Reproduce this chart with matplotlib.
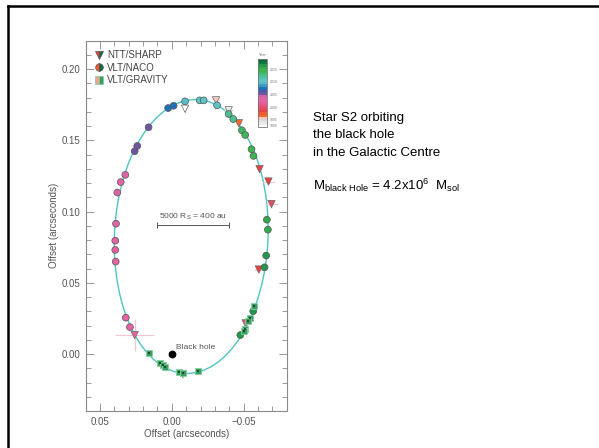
import numpy as np
import matplotlib
matplotlib.use("Agg")
import matplotlib.pyplot as plt
from matplotlib.lines import Line2D
from matplotlib.patches import Ellipse
from matplotlib.colors import ListedColormap, BoundaryNorm
from matplotlib.ticker import MultipleLocator

plt.rcParams['font.family'] = ['Liberation Sans', 'DejaVu Sans']
plt.rcParams['mathtext.fontset'] = 'custom'
plt.rcParams['mathtext.rm'] = 'Liberation Sans'
plt.rcParams['mathtext.it'] = 'Liberation Sans:italic'

# ---------------- data ----------------
# year colour scale
year_edges = list(range(1992, 2020))
year_colors = ['#ffffff', '#ebebeb', '#e0e0e0', '#f4c9c4', '#f36b2b', '#f05a30',
               '#e8413f', '#e84a5f', '#e8507e', '#e85a92', '#e463a4', '#e065a8',
               '#d060a8', '#6c55a3', '#3f5fae', '#1f70b8', '#3a9ec4', '#56bec8',
               '#5cc4c4', '#52c2a8', '#4cbf90', '#40b860', '#3cb44e', '#33aa4a',
               '#22984a', '#0f7a40', '#0b6b3a']
cbar_ticks = [1992.8, 1995, 2000, 2005, 2010, 2015]
cbar_ticklabels = ['1990', '1995', '2000', '2005', '2010', '2015']

# VLT/NACO (circles)
naco_x = [0.0292, 0.0321, 0.0391, 0.0394, 0.0394, 0.0389, 0.0380, 0.0356, 0.0324,
          0.0259, 0.0241, 0.0162, 0.0026, -0.0012, -0.0092, -0.0194, -0.0222,
          -0.0315, -0.0396, -0.0428, -0.0488, -0.0511, -0.0555, -0.0569, -0.0662,
          -0.0669, -0.0657, -0.0646, -0.0567, -0.0477]
naco_y = [0.0189, 0.0255, 0.0649, 0.0731, 0.0796, 0.0915, 0.1134, 0.1207, 0.1258,
          0.1424, 0.1461, 0.1592, 0.1727, 0.1743, 0.1774, 0.1781, 0.1781,
          0.1746, 0.1685, 0.1650, 0.1571, 0.1538, 0.1438, 0.1391, 0.0943,
          0.0873, 0.0691, 0.0609, 0.0301, 0.0133]
naco_year = [2002.5, 2002.6, 2002.8, 2002.9, 2003.0, 2003.2, 2003.4, 2003.6, 2003.8,
             2005.3, 2005.5, 2005.8, 2007.3, 2007.6, 2009.5, 2010.2, 2010.4,
             2010.6, 2012.3, 2012.5, 2013.3, 2013.5, 2014.3, 2014.5, 2015.3,
             2015.5, 2016.3, 2016.5, 2016.6, 2016.8]

# NTT/SHARP (triangles)
ntt_x = [-0.0092, -0.0396, -0.0308, -0.0467, -0.0611, -0.0673, -0.0694, -0.0606,
         -0.0514, -0.0075, 0.0259]
ntt_y = [0.1722, 0.1711, 0.1781, 0.1620, 0.1298, 0.1211, 0.1053, 0.0593,
         0.0215, -0.0140, 0.0133]
ntt_year = [1992.5, 1993.2, 1995.5, 1996.5, 1998.3, 1998.6, 1999.3, 1998.8,
            2000.5, 2002.2, 2002.5]
ntt_xerr = [0.0008, 0.0030, 0.0020, 0.0020, 0.0020, 0.0045, 0.0045, 0.0035,
            0.0020, 0.0020, 0.0135]
ntt_yerr = [0.0030, 0.0015, 0.0020, 0.0015, 0.0015, 0.0020, 0.0030, 0.0015,
            0.0020, 0.0025, 0.0110]

# VLT/GRAVITY (squares)
grav_x = [0.0158, 0.0083, 0.0065, 0.0046, -0.0051, -0.0081, -0.0185,
          -0.0574, -0.0542, -0.0532, -0.0509, -0.0500]
grav_y = [0.0005, -0.0065, -0.0077, -0.0091, -0.0126, -0.0130, -0.0121,
          0.0336, 0.0255, 0.0231, 0.0178, 0.0161]

# orbit (projected ellipse)
orbit_center = (-0.0135, 0.0825)
orbit_semi_x = 0.0535
orbit_semi_y = 0.0962
orbit_angle = 2.5

# ---------------- figure ----------------
fig = plt.figure(figsize=(5.99, 4.48), dpi=100)
ax = fig.add_axes([0.1431, 0.0826, 0.3355, 0.8266])

cmap = ListedColormap(year_colors)
norm = BoundaryNorm(year_edges, cmap.N)

gray = '#8a8a8a'
tcol = '#555555'

ax.add_patch(Ellipse(orbit_center, 2 * orbit_semi_x, 2 * orbit_semi_y,
                     angle=orbit_angle, fill=False, ec='#4ec5c1', lw=1.0, zorder=1))

ax.errorbar(ntt_x, ntt_y, xerr=ntt_xerr, yerr=ntt_yerr, fmt='none',
            ecolor='#f5c6cf', elinewidth=0.8, capsize=0, zorder=2)

ax.scatter(ntt_x, ntt_y, c=ntt_year, cmap=cmap, norm=norm, marker='v', s=28,
           edgecolors='#666666', linewidths=0.5, zorder=3)
ax.scatter(naco_x, naco_y, c=naco_year, cmap=cmap, norm=norm, marker='o', s=24,
           edgecolors='#555555', linewidths=0.5, zorder=4)
ax.scatter(grav_x, grav_y, marker='s', s=20, c='#3d9a62', edgecolors='#7fd39a',
           linewidths=0.6, zorder=5)
ax.scatter(grav_x, grav_y, marker='s', s=3, c='#174d2e', linewidths=0, zorder=6)

# black hole
ax.plot([0.0], [0.0], 'o', color='black', markersize=4.6, zorder=6)
ax.text(-0.0028, 0.0047, 'Black hole', fontsize=6, color=tcol, ha='left', va='center')

# scale bar
ax.plot([0.0102, -0.0398], [0.0903, 0.0903], color='#555555', lw=0.7, zorder=2)
ax.plot([0.0102, -0.0398], [0.0903, 0.0903], ls='none', marker='|', markersize=4,
        color='#555555', markeredgewidth=0.7, zorder=2)
ax.text(-0.0148, 0.0946, r'5000 R$_{\mathrm{S}}$ = 400 au', fontsize=6, color=tcol,
        ha='center', va='baseline')

ax.set_xlim(0.06, -0.08)
ax.set_ylim(-0.04, 0.22)
ax.xaxis.set_major_locator(MultipleLocator(0.05))
ax.xaxis.set_minor_locator(MultipleLocator(0.01))
ax.yaxis.set_major_locator(MultipleLocator(0.05))
ax.yaxis.set_minor_locator(MultipleLocator(0.01))
ax.tick_params(which='both', direction='in', top=True, right=True, color=gray,
               width=0.6, labelsize=7, labelcolor=tcol, pad=4)
ax.tick_params(which='major', length=6)
ax.tick_params(which='minor', length=3.5)
for s in ax.spines.values():
    s.set_color(gray)
    s.set_linewidth(0.8)
ax.set_xlabel('Offset (arcseconds)', fontsize=7, color=tcol, labelpad=2)
ax.set_ylabel('Offset (arcseconds)', fontsize=7, color=tcol, labelpad=2)

# legend
h1 = Line2D([], [], ls='none', marker='v', markersize=5.5, fillstyle='left',
            markerfacecolor='#e8413f', markerfacecoloralt='#0f6b3a', markeredgecolor='#555555',
            markeredgewidth=0.5)
h2 = Line2D([], [], ls='none', marker='o', markersize=5.5, fillstyle='left',
            markerfacecolor='#ee5a30', markerfacecoloralt='#0f6b3a', markeredgecolor='#555555',
            markeredgewidth=0.5)
h3 = Line2D([], [], ls='none', marker='s', markersize=5.5, fillstyle='left',
            markerfacecolor='#f2a090', markerfacecoloralt='#3d9a62', markeredgecolor='#7fd39a',
            markeredgewidth=0.5)
leg = ax.legend([h1, h2, h3], ['NTT/SHARP', 'VLT/NACO', 'VLT/GRAVITY'], loc='upper left',
                bbox_to_anchor=(0.0, 1.0), frameon=False, fontsize=7, handlelength=0.8,
                handletextpad=0.4, labelspacing=0.25, borderaxespad=0.6)
for t in leg.get_texts():
    t.set_color('#444444')

# colour bar
cax = fig.add_axes([258 / 599, 1 - 127.3 / 448, 9.3 / 599, 68 / 448])
sm = matplotlib.cm.ScalarMappable(cmap=cmap, norm=norm)
cb = fig.colorbar(sm, cax=cax, ticks=cbar_ticks)
cb.ax.minorticks_off()
cb.ax.set_yticks(cbar_ticks)
cb.ax.set_yticklabels(cbar_ticklabels)
cb.ax.tick_params(which='both', labelsize=2.5, labelcolor='#777777', length=0, pad=2)
cb.outline.set_edgecolor('#777777')
cb.outline.set_linewidth(0.6)
cax.text(0.5, 1.03, 'Year', transform=cax.transAxes, fontsize=2.8, color='#777777',
         ha='center', va='bottom')

# slide frame lines
fig.add_artist(Line2D([8 / 599, 1.0], [1 - 6 / 448, 1 - 6 / 448], color='black', lw=1.8))
fig.add_artist(Line2D([8 / 599, 8 / 599], [0.0, 1 - 6 / 448], color='black', lw=1.8))

# text panel
fig.text(313 / 599, 1 - 120.7 / 448, 'Star S2 orbiting', fontsize=9.5, va='baseline')
fig.text(313 / 599, 1 - 138.2 / 448, 'the black hole', fontsize=9.5, va='baseline')
fig.text(313 / 599, 1 - 156.2 / 448, 'in the Galactic Centre', fontsize=9.5, va='baseline')
fig.text(313 / 599, 1 - 190 / 448,
         r'M$_{\mathrm{black\ Hole}}$ = 4.2x10$^{6}$  M$_{\mathrm{sol}}$',
         fontsize=9.5, va='baseline')

fig.savefig('out.png', dpi=100, facecolor='white')
